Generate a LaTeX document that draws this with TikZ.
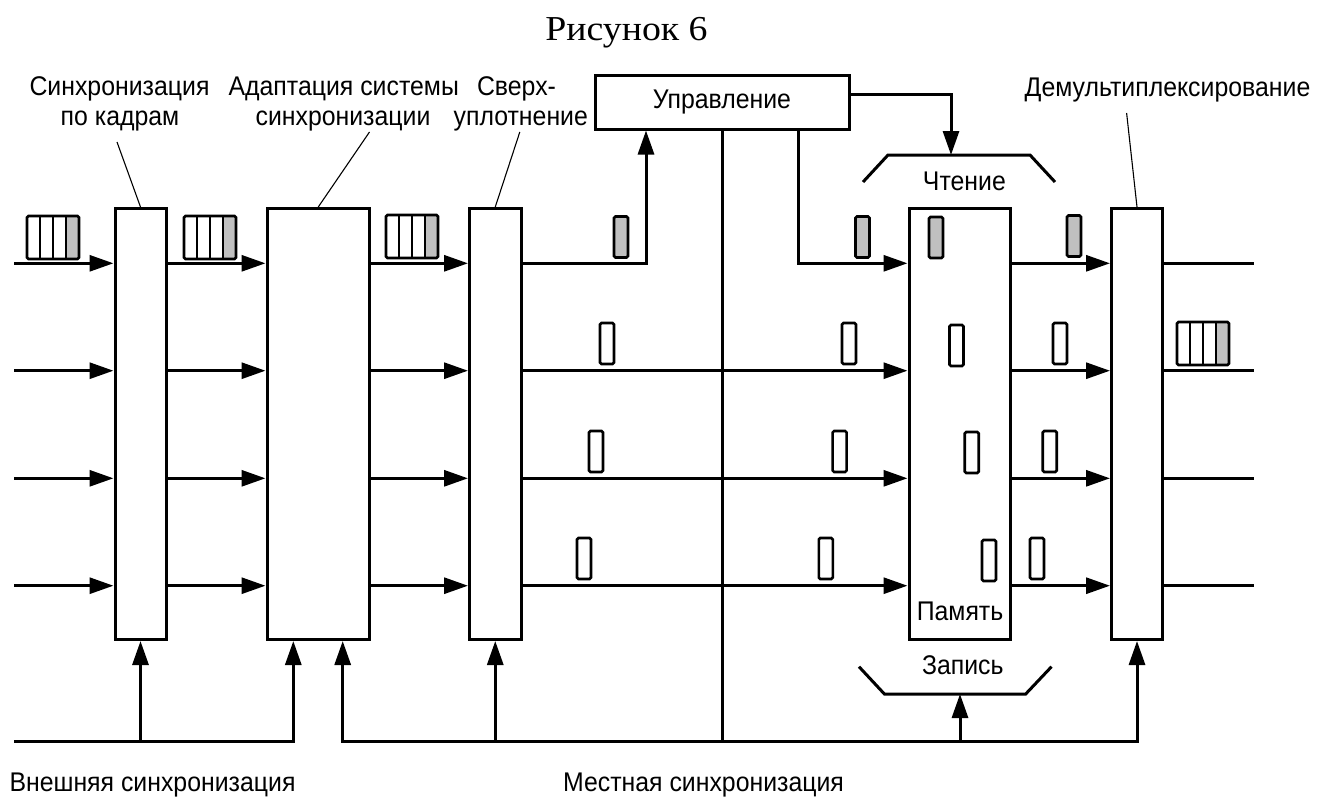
\documentclass[tikz,border=0pt]{standalone}
\usepackage{fontspec}
\setmainfont{Liberation Sans}[FakeStretch=0.92]
\newfontfamily\capfont{Liberation Serif}[FakeStretch=1.08]
\usetikzlibrary{arrows.meta,calc}
\definecolor{cellgray}{RGB}{192,192,192}
\begin{document}
\begin{tikzpicture}[x=1pt,y=-1pt,
  wire/.style={line width=3pt},
  arr/.style={wire,-{Triangle[length=24pt,width=16pt]}},
  arrboth/.style={wire,{Triangle[length=24pt,width=16pt]}-{Triangle[length=24pt,width=16pt]}},
  lead/.style={line width=1.1pt},
  blk/.style={draw,line width=3pt,inner sep=0pt,minimum height=431},
  icon/.style={line width=2.6pt,rounded corners=1.5pt},
  lbl/.style={font=\fontsize{27}{32}\selectfont,anchor=base,inner sep=0pt},
  pics/cell/.style={code={\draw[icon,fill=#1] (0,0) rectangle (14,41);}},
  pics/frame/.style={code={
    \fill[cellgray,rounded corners=1.5pt] (39,0) rectangle (52,43);
    \draw[icon] (0,0) rectangle (52,43);
    \draw[line width=2.6pt] (13,0) -- (13,43) (26,0) -- (26,43) (39,0) -- (39,43);}}
]
\useasboundingbox (0,0) rectangle (1319,798);
\fill[white] (0,0) rectangle (1319,798);

% caption
\node[font=\capfont\fontsize{35}{40}\selectfont,anchor=base,inner sep=0pt] (title) at (626.5,40) {Рисунок 6};

% processing blocks
\node[blk,minimum width=51] (b1) at (140.5,424) {};
\node[blk,minimum width=102.5] (b2) at (318.25,424) {};
\node[blk,minimum width=51.5] (b3) at (495.25,424) {};
\node[blk,minimum width=101.5] (mem) at (959.75,424) {};
\node[blk,minimum width=51] (dmx) at (1137,424) {};
\node[draw,line width=3pt,inner sep=0pt,minimum width=254,minimum height=54,
      font=\fontsize{27}{32}\selectfont] (ctl) at (722,102) {Управление};

% block captions and leader lines
\node[lbl] (t1a) at (119.5,95) {Синхронизация};
\node[lbl] (t1b) at (120,125) {по кадрам};
\node[lbl] (t2a) at (343.7,95) {Адаптация системы};
\node[lbl] (t2b) at (343,125) {синхронизации};
\node[lbl] (t3a) at (516.5,95) {Сверх-};
\node[lbl] (t3b) at (520.8,125) {уплотнение};
\node[lbl] (t4) at (1167.5,96) {Демультиплексирование};
\coordinate (l1) at (117,142);
\coordinate (l2) at (369.5,132);
\coordinate (l3) at (519.8,132);
\coordinate (l4) at (1126.6,113);
\draw[lead] (l1) -- (b1.north);
\draw[lead] (l2) -- (b2.north);
\draw[lead] (l3) -- (b3.north);
\draw[lead] (l4) -- (dmx.north);

% channel rows
\coordinate (in1) at (14,263.3);
\coordinate (in2) at (14,370.7);
\coordinate (in3) at (14,478.3);
\coordinate (in4) at (14,585.7);
\coordinate (out1) at (1253.7,263.3);
\coordinate (out2) at (1253.7,370.7);
\coordinate (out3) at (1253.7,478.3);
\coordinate (out4) at (1253.7,585.7);
\foreach \i in {1,2,3,4}{
  \draw[arr] (in\i) -- (b1.west |- in\i);
  \draw[arr] (b1.east |- in\i) -- (b2.west |- in\i);
  \draw[arr] (b2.east |- in\i) -- (b3.west |- in\i);
  \draw[arr] (mem.east |- in\i) -- (dmx.west |- in\i);
  \draw[wire] (dmx.east |- in\i) -- (out\i);
}
\foreach \i in {2,3,4}{
  \draw[arr] (b3.east |- in\i) -- (mem.west |- in\i);
}

% control paths
\coordinate (tap) at (646,0);
\coordinate (feed) at (798,0);
\coordinate (rdy) at (0,94);
\coordinate (rd) at (951,155);
\coordinate (bus) at (722,741.7);
\draw[arr] (b3.east |- in1) -| (ctl.south -| tap);
\draw[arr] (ctl.south -| feed) |- (mem.west |- in1);
\draw[arr] (ctl.east |- rdy) -| (rd);
\draw[wire] (ctl.south) -- (bus);

% read / write brackets
\draw[wire] (863,182) -- (888,155) -- (1030,155) -- (1055,182);
\draw[wire] (859,666.7) -- (884.4,694) -- (1025.7,694) -- (1051.5,666.7);
\node[lbl] (trd) at (964.4,190) {Чтение};
\node[lbl] (tmem) at (960,620) {Память};
\node[lbl] (twr) at (962.8,674) {Запись};

% synchronisation buses
\coordinate (ext0) at (14,741.7);
\coordinate (ext1) at (293.3,741.7);
\coordinate (loc0) at (342.7,741.7);
\coordinate (wr) at (960,694);
\draw[arr] (ext0) -| (ext1 |- b2.south);
\draw[arr] (b1.south |- ext0) -- (b1.south);
\draw[arrboth] (loc0 |- b2.south) |- (dmx.south |- loc0) -- (dmx.south);
\draw[arr] (b3.south |- loc0) -- (b3.south);
\draw[arr] (wr |- loc0) -- (wr);
\node[lbl] (text) at (152.5,791) {Внешняя синхронизация};
\node[lbl] (tloc) at (703.5,791) {Местная синхронизация};

% frames and time slots
\pic at (27,216) {frame};
\pic at (184,216) {frame};
\pic at (386,215) {frame};
\pic at (1177,322) {frame};
\foreach \x/\y in {614/216.5, 855.5/216.5, 929/217, 1067/215.5}{
  \pic at (\x,\y) {cell=cellgray};
}
\foreach \x/\y in {600/323, 842/323, 949.5/325, 1053/323,
                   589/431, 832.6/431, 964.7/432, 1042.7/431,
                   577/538, 818.8/538, 982/540, 1030/538}{
  \pic at (\x,\y) {cell=white};
}
\end{tikzpicture}
\end{document}
